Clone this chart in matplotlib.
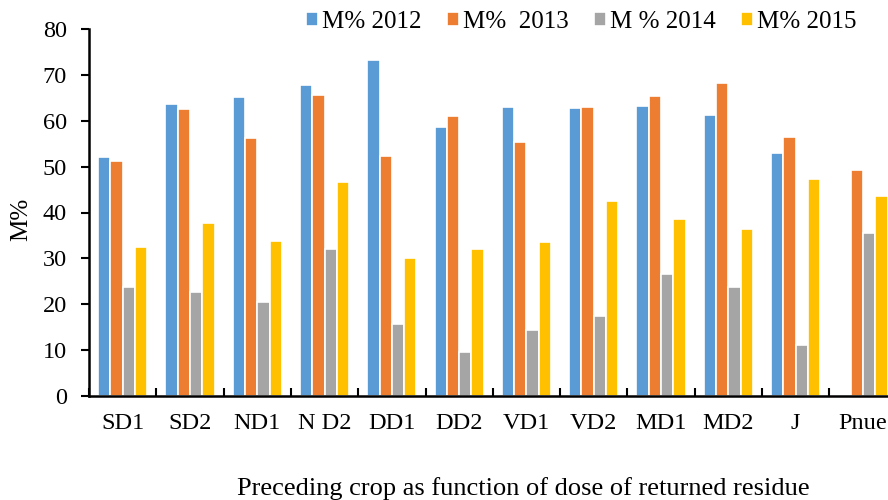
import numpy as np
import matplotlib
matplotlib.use("Agg")
import matplotlib.pyplot as plt

# values
CATEGORIES = ["SD1", "SD2", "ND1", "N D2", "DD1", "DD2", "VD1", "VD2", "MD1", "MD2", "J", "Pnue"]
M_2012 = [52.0, 63.7, 65.2, 67.9, 73.2, 58.6, 63.1, 62.8, 63.2, 61.3, 53.0, 0.0]
M_2013 = [51.2, 62.5, 56.3, 65.7, 52.4, 61.0, 55.3, 63.1, 65.5, 68.2, 56.5, 49.2]
M_2014 = [23.7, 22.7, 20.4, 32.0, 15.6, 9.5, 14.3, 17.4, 26.6, 23.8, 11.2, 35.6]
M_2015 = [32.5, 37.7, 33.7, 46.6, 30.1, 32.0, 33.5, 42.4, 38.6, 36.4, 47.3, 43.5]

SERIES = [
    ("M% 2012", M_2012, "#5B9BD5"),
    ("M%  2013", M_2013, "#ED7D31"),
    ("M % 2014", M_2014, "#A5A5A5"),
    ("M% 2015", M_2015, "#FFC000"),
]

plt.rcParams['font.family'] = ['Liberation Serif', 'DejaVu Serif']
plt.rcParams['font.size'] = 17.5


def plot_chart():
    fig = plt.figure(figsize=(8.88, 5), dpi=100)
    # axes run past the right edge of the figure, like the reference
    ax = fig.add_axes([89 / 888, 104 / 500, 12 * 67.3 / 888, 367 / 500])

    x = np.arange(len(CATEGORIES))
    w = 0.183
    for i, (label, vals, color) in enumerate(SERIES):
        ax.bar(x + (i - 1.5) * w, vals, width=w, color=color,
               edgecolor="white", linewidth=1.2, label=label)

    ax.set_xlim(-0.5, len(CATEGORIES) - 0.5)
    ax.set_ylim(0, 80)
    ax.set_yticks(range(0, 81, 10))

    ax.set_xticks(x)
    ax.set_xticklabels(CATEGORIES)
    ax.set_xticks(np.arange(-0.5, len(CATEGORIES), 1), minor=True)
    ax.tick_params(axis="x", which="major", length=0, pad=12)
    ax.tick_params(axis="x", which="minor", direction="in", length=6, width=1.5)
    ax.tick_params(axis="y", direction="out", length=6, width=1.5, pad=10)

    for side in ["top", "right"]:
        ax.spines[side].set_visible(False)
    for side in ["left", "bottom"]:
        ax.spines[side].set_linewidth(1.8)

    ax.set_ylabel("M%", fontsize=18)
    ax.yaxis.set_label_coords(-0.07, 0.48)

    fig.text(523 / 888, 1 - 489 / 500, "Preceding crop as function of dose of returned residue",
             ha="center", va="center", fontsize=19)

    fig.legend(loc="center", bbox_to_anchor=(581 / 888, 1 - 22 / 500), ncol=4,
               frameon=False, fontsize=18, handlelength=0.5, handleheight=0.5,
               handletextpad=0.15, columnspacing=1.0, borderaxespad=0)

    fig.savefig("out.png", dpi=100)


def main():
    plot_chart()


if __name__ == "__main__":
    main()
